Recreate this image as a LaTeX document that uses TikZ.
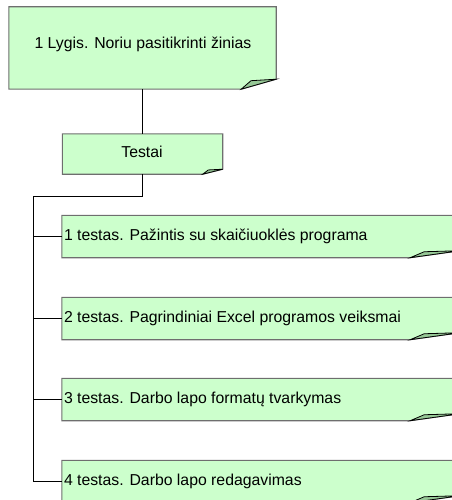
\documentclass[tikz,border=0pt]{standalone}
\usepackage{fontspec}
\setmainfont{Liberation Sans}
\usetikzlibrary{backgrounds}
\definecolor{notefill}{RGB}{204,255,204}
\definecolor{notefold}{RGB}{150,200,150}
\definecolor{noteline}{RGB}{110,110,110}
\tikzset{
  x=1pt, y=-1pt,
  label/.style={inner sep=0pt, font=\fontsize{15.8}{18}\selectfont},
  leftlabel/.style={label, anchor=west, align=left},
  notebox/.style={fill=notefill, draw=noteline, line width=1.1pt, line join=miter},
  fold/.style={fill=notefold, draw=black, line width=0.8pt},
  link/.style={draw=black, line width=0.9pt},
}
% folded-corner note behind a node: #1 node, #2 fold width, #3 fold height
\newcommand{\foldnote}[3]{%
  \path[notebox] (#1.north west) -- (#1.north east) -- ([yshift=#3]#1.south east)
    -- ([xshift=-#2]#1.south east) -- (#1.south west) -- cycle;
  \path[fold] ([xshift=-#2]#1.south east) -- ([xshift=-#2*0.72, yshift=#3*0.85]#1.south east)
    -- ([yshift=#3]#1.south east) -- cycle;
}
\begin{document}
\begin{tikzpicture}
\useasboundingbox (0,0) rectangle (451,500);
\clip (0,0) rectangle (451,500);

\node[minimum width=267pt, minimum height=82pt, inner sep=0pt] (lvl) at (142.5,48) {};
\node[label] (lvl-text) at (143,44) {1 Lygis. Noriu pasitikrinti žinias};
\node[minimum width=160pt, minimum height=40pt, inner sep=0pt] (tests) at (142.5,154) {};
\node[label] (tests-text) at (142,152) {Testai};

\foreach \n/\y in {t1/236.5, t2/318.5, t3/399.5, t4/481.5}
  \node[minimum width=398pt, minimum height=42pt, inner sep=0pt] (\n) at (261,\y) {};

\foreach \n/\t in {t1/{1 testas. Pažintis su skaičiuoklės programa},
                   t2/{2 testas. Pagrindiniai Excel programos veiksmai},
                   t3/{3 testas. Darbo lapo formatų tvarkymas},
                   t4/{4 testas. Darbo lapo redagavimas}}
  \node[leftlabel] (\n-text) at ([xshift=2pt]\n.west) {\t};

\begin{scope}[on background layer]
  \foldnote{lvl}{35pt}{10pt}
  \foldnote{tests}{20pt}{5pt}
  \foldnote{t1}{50pt}{7pt}
  \foldnote{t2}{50pt}{7pt}
  \foldnote{t3}{50pt}{7pt}
  \foldnote{t4}{50pt}{7pt}
\end{scope}

\coordinate (trunk) at (33.5,196.5);
\draw[link] (lvl.south) -- (tests.north);
\draw[link] (tests.south) |- (trunk) -- (trunk |- t4.west) -- (t4.west);
\foreach \n in {t1,t2,t3}
  \draw[link] (trunk |- \n.west) -- (\n.west);
\end{tikzpicture}
\end{document}
